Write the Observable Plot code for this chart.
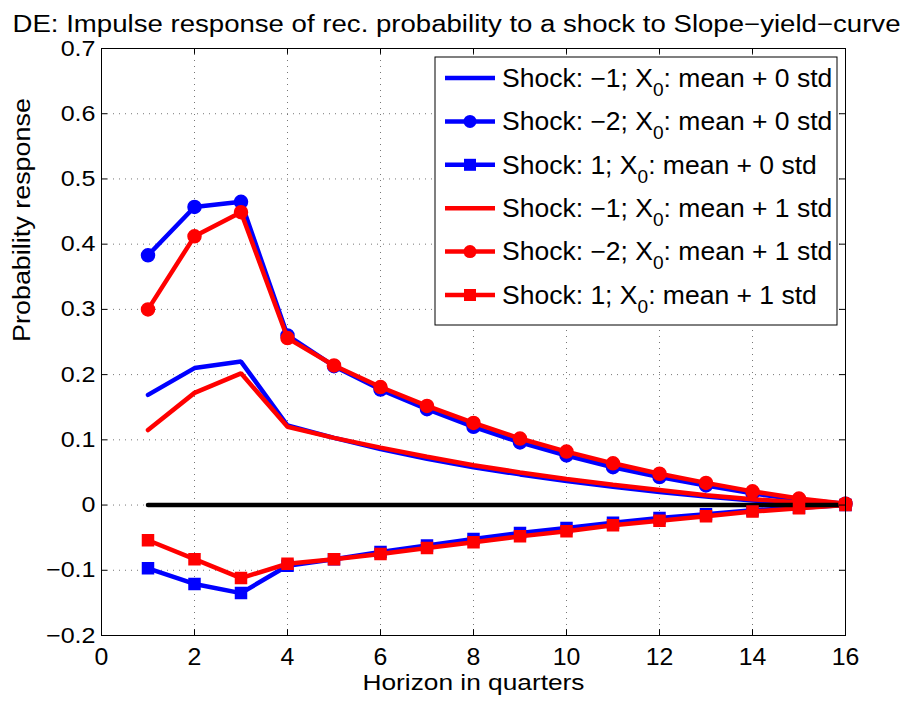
<!DOCTYPE html>
<html>
<head>
<meta charset="utf-8">
<script src="https://cdn.jsdelivr.net/npm/d3@7"></script>
<script src="https://cdn.jsdelivr.net/npm/@observablehq/plot@0.6"></script>
<style>
  html, body { margin: 0; padding: 0; background: #fff; }
  #chart svg { font-family: "Liberation Sans", Arial, sans-serif; }
</style>
</head>
<body>
<div id="chart"></div>
<script>
const title = "DE: Impulse response of rec. probability to a shock to Slope\u2212yield\u2212curve";
const xLabel = "Horizon in quarters";
const yLabel = "Probability response";
const horizon = [1,2,3,4,5,6,7,8,9,10,11,12,13,14,15,16];
const xTicks = [0,2,4,6,8,10,12,14,16];
const yTicks = [-0.2,-0.1,0,0.1,0.2,0.3,0.4,0.5,0.6,0.7];

// Shock: -1; X0: mean + 0 std
const m1Std0 = [0.169,0.210,0.220,0.122,0.103,0.086,0.071,0.058,0.047,0.037,0.028,0.020,0.013,0.007,0.003,0.000];
// Shock: -2; X0: mean + 0 std
const m2Std0 = [0.383,0.457,0.465,0.260,0.213,0.177,0.147,0.120,0.096,0.076,0.058,0.043,0.030,0.018,0.008,0.002];
// Shock: 1; X0: mean + 0 std
const p1Std0 = [-0.097,-0.121,-0.135,-0.093,-0.083,-0.072,-0.062,-0.052,-0.043,-0.035,-0.027,-0.020,-0.014,-0.008,-0.004,0.000];
// Shock: -1; X0: mean + 1 std
const m1Std1 = [0.115,0.172,0.202,0.120,0.103,0.088,0.074,0.061,0.050,0.040,0.031,0.023,0.015,0.009,0.004,0.000];
// Shock: -2; X0: mean + 1 std
const m2Std1 = [0.300,0.412,0.449,0.256,0.214,0.181,0.152,0.126,0.102,0.082,0.064,0.048,0.034,0.021,0.010,0.002];
// Shock: 1; X0: mean + 1 std
const p1Std1 = [-0.054,-0.083,-0.112,-0.090,-0.083,-0.075,-0.066,-0.057,-0.048,-0.040,-0.031,-0.024,-0.017,-0.010,-0.005,0.000];

const seriesNames = [
  "Shock: \u22121; X0: mean + 0 std",
  "Shock: \u22122; X0: mean + 0 std",
  "Shock: 1; X0: mean + 0 std",
  "Shock: \u22121; X0: mean + 1 std",
  "Shock: \u22122; X0: mean + 1 std",
  "Shock: 1; X0: mean + 1 std"
];
const seriesColors = ["#0000ff","#0000ff","#0000ff","#ff0000","#ff0000","#ff0000"];
const seriesMarkers = ["none","circle","square","none","circle","square"];
const seriesValues = [m1Std0, m2Std0, p1Std0, m1Std1, m2Std1, p1Std1];
const zeroLine = horizon.map(() => 0);

const rows = [];
seriesValues.forEach((vals, i) => {
  horizon.forEach((h, j) => rows.push({s: i, x: h, y: vals[j], color: seriesColors[i], marker: seriesMarkers[i]}));
});
const zeroRows = horizon.map((h, j) => ({x: h, y: zeroLine[j]}));

const fmt = d => Math.abs(d) < 1e-9 ? "0" : d3.format(".1f")(d);

const W = 908, H = 702, ML = 101, MR = 63, MT = 48, MB = 67;

const blueRows = rows.filter(r => r.s < 3);
const redRows = rows.filter(r => r.s >= 3);

const plot = Plot.plot({
  width: W, height: H,
  marginLeft: ML, marginRight: MR, marginTop: MT, marginBottom: MB,
  style: {fontFamily: "'Liberation Sans', Arial, sans-serif", background: "#fff"},
  x: {domain: [0, 16], ticks: xTicks},
  y: {domain: [-0.2, 0.7], ticks: yTicks},
  marks: [
    Plot.gridX(xTicks, {stroke: "#777", strokeOpacity: 1, strokeDasharray: "1,5"}),
    Plot.gridY(yTicks, {stroke: "#777", strokeOpacity: 1, strokeDasharray: "1,5"}),
    Plot.line(blueRows, {x: "x", y: "y", z: "s", stroke: "color", strokeWidth: 4.5, strokeLinejoin: "miter"}),
    Plot.dot(blueRows.filter(r => r.marker === "circle"), {x: "x", y: "y", r: 6.5, fill: "color", stroke: "color", symbol: "circle"}),
    Plot.dot(blueRows.filter(r => r.marker === "square"), {x: "x", y: "y", r: 6.2, fill: "color", stroke: "color", symbol: "square"}),
    Plot.line(redRows, {x: "x", y: "y", z: "s", stroke: "color", strokeWidth: 4.5, strokeLinejoin: "miter"}),
    Plot.line(zeroRows, {x: "x", y: "y", stroke: "#000", strokeWidth: 4.5}),
    Plot.dot(redRows.filter(r => r.marker === "circle"), {x: "x", y: "y", r: 6.5, fill: "color", stroke: "color", symbol: "circle"}),
    Plot.dot(redRows.filter(r => r.marker === "square"), {x: "x", y: "y", r: 6.2, fill: "color", stroke: "color", symbol: "square"}),
    // inward ticks on all four sides
    Plot.ruleY(yTicks, {y: d => d, x1: () => 0, x2: () => 0.13, stroke: "#000"}),
    Plot.ruleY(yTicks, {y: d => d, x1: () => 15.87, x2: () => 16, stroke: "#000"}),
    Plot.ruleX(xTicks, {x: d => d, y1: () => -0.2, y2: () => -0.191, stroke: "#000"}),
    Plot.ruleX(xTicks, {x: d => d, y1: () => 0.691, y2: () => 0.7, stroke: "#000"}),
    Plot.frame({stroke: "#000"}),
    Plot.axisX(xTicks, {tickSize: 0, tickPadding: 13, fontSize: 23, tickFormat: d => String(d), label: null, className: "xt"}),
    Plot.axisY(yTicks, {tickSize: 0, tickPadding: 6, fontSize: 22, tickFormat: fmt, label: null, className: "yt"}),
    Plot.text([xLabel], {frameAnchor: "bottom", dy: 54, fontSize: 22, fill: "#000", className: "xlab"}),
    Plot.text([yLabel], {frameAnchor: "left", dx: -79, rotate: -90, fontSize: 23, fill: "#000", className: "ylab"}),
    Plot.text([title], {frameAnchor: "top-left", textAnchor: "middle", dx: 355, dy: -33, fontSize: 23, fill: "#000", className: "ttl"})
  ]
});

document.getElementById("chart").appendChild(plot);

const svg = d3.select(plot);
// Stretch texts horizontally to match the reference rendering
function stretch(sel, factor, fixed) {
  sel.each(function () {
    const len = fixed != null ? fixed : this.getComputedTextLength() * factor;
    d3.select(this).attr("textLength", len).attr("lengthAdjust", "spacingAndGlyphs");
  });
}
stretch(svg.selectAll(".xt text"), 1.08);
stretch(svg.selectAll(".yt text"), 1.14);
stretch(svg.selectAll(".ttl text"), 1, 888);
stretch(svg.selectAll(".xlab text"), 1, 222);
stretch(svg.selectAll(".ylab text"), 1, 244);

// Legend
const lg = svg.append("g").attr("text-anchor", "start");
const LX = 435, LY = 57, LW = 402, LH = 268;
lg.append("rect").attr("x", LX).attr("y", LY).attr("width", LW).attr("height", LH)
  .attr("fill", "#fff").attr("stroke", "#000").attr("stroke-width", 1);
const rowY = i => 78 + i * 43.4;
seriesNames.forEach((name, i) => {
  const y = rowY(i);
  const c = seriesColors[i];
  lg.append("line").attr("x1", 445).attr("x2", 495).attr("y1", y).attr("y2", y)
    .attr("stroke", c).attr("stroke-width", 4.5);
  if (seriesMarkers[i] === "circle") {
    lg.append("circle").attr("cx", 470).attr("cy", y).attr("r", 6.5).attr("fill", c);
  } else if (seriesMarkers[i] === "square") {
    lg.append("rect").attr("x", 464).attr("y", y - 6).attr("width", 12).attr("height", 12).attr("fill", c);
  }
  const parts = name.split("X0");
  const t = lg.append("text").attr("x", 502).attr("y", y).attr("dy", "0.35em")
    .attr("text-anchor", "start").attr("font-size", 25).attr("fill", "#000");
  t.append("tspan").text(parts[0] + "X");
  t.append("tspan").attr("font-size", 18).attr("dy", 9).text("0");
  t.append("tspan").attr("dy", -9).text(parts[1]);
  stretch(t, 1.06);
});
</script>
</body>
</html>
